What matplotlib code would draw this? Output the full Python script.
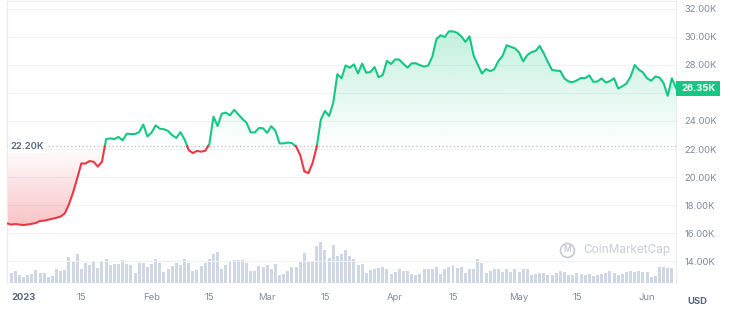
import datetime
import numpy as np
import matplotlib
matplotlib.use('Agg')
import matplotlib.pyplot as plt
import matplotlib.dates as mdates
import matplotlib.transforms as mtransforms
from matplotlib.path import Path
from matplotlib.patches import PathPatch, Rectangle

plt.rcParams['font.family'] = ['Inter', 'DejaVu Sans']

# BTC price in thousands USD, one value per day from 2022-12-28
price = [
    16.69, 16.60, 16.64, 16.60, 16.57, 16.61, 16.66, 16.72, 16.86, 16.88,
    16.95, 17.02, 17.09, 17.18, 17.40, 18.05, 18.90, 19.90, 20.97, 20.96,
    21.14, 21.08, 20.74, 21.10, 22.70, 22.76, 22.71, 22.86, 22.62, 23.09,
    23.07, 23.07, 23.20, 23.75, 22.90, 23.17, 23.69, 23.45, 23.41, 23.29,
    22.98, 22.79, 23.20, 22.68, 21.92, 21.71, 21.86, 21.81, 21.87, 22.35,
    24.31, 23.64, 24.52, 24.60, 24.40, 24.80, 24.48, 24.15, 23.88, 23.19,
    23.18, 23.50, 23.48, 23.15, 23.63, 23.30, 22.40, 22.40, 22.46, 22.42,
    22.18, 21.57, 20.40, 20.28, 21.00, 22.15, 24.10, 24.72, 24.36, 25.30,
    27.35, 27.05, 27.97, 27.80, 28.05, 27.40, 28.10, 27.45, 27.50, 27.85,
    27.12, 27.30, 28.30, 28.07, 28.40, 28.38, 28.08, 27.81, 28.12, 28.12,
    27.99, 27.88, 27.97, 28.60, 29.87, 30.12, 30.00, 30.40, 30.40, 30.30,
    30.05, 29.65, 30.05, 28.67, 28.03, 27.39, 27.71, 27.56, 27.70, 28.29,
    28.65, 29.41, 29.30, 29.19, 28.90, 28.26, 28.71, 28.92, 29.00, 29.36,
    28.82, 28.20, 27.64, 27.60, 27.57, 27.03, 26.82, 26.78, 26.90, 27.08,
    27.06, 27.26, 26.79, 26.83, 27.04, 26.75, 26.85, 27.05, 26.32, 26.48,
    26.67, 27.17, 28.00, 27.67, 27.47, 27.04, 26.88, 27.18, 27.10, 26.70,
    25.80, 27.05, 26.35,
]

# daily volume (billions USD, approx)
volume = [
    12.3, 10, 11.7, 7.7, 6, 7.7, 9, 13.3, 9.7, 10,
    5.7, 7, 14, 11.7, 13.3, 25.7, 21.7, 29.3, 14, 20,
    18.3, 22.3, 15, 21.7, 24.3, 18, 19.3, 19.3, 23, 19,
    18.3, 10, 20, 20, 16.3, 19, 23.7, 20, 11, 14.3,
    17.3, 19.7, 18.3, 24, 20.3, 11.7, 13.3, 17, 20, 24.3,
    29.3, 30.7, 14.3, 18.3, 21.7, 23, 23, 23, 20, 11.7,
    11.7, 16.7, 15.7, 18, 14.3, 19, 7.7, 9.3, 12.3, 16.3,
    16.3, 22.3, 29.7, 22.3, 21.7, 36.7, 41, 32.7, 25, 37.7,
    26.7, 29, 33.3, 26.7, 24.3, 17.7, 19, 10, 13.3, 13.7,
    15, 16.3, 14, 9, 11, 14.3, 11.7, 12.3, 9, 7.7,
    9, 14, 14.3, 13.7, 16.3, 9, 14, 15.7, 18.3, 15,
    15.7, 10, 14.3, 14.3, 23.7, 19.7, 10, 12.3, 14.3, 13.7,
    11, 13.7, 11, 14.3, 11, 14.3, 13.7, 8.3, 9, 10.3,
    10, 7.7, 8.3, 10.3, 12.3, 11, 8.3, 7.7, 10.3, 9,
    8.3, 9, 6.7, 7.7, 9, 10.3, 11.7, 10, 7.7, 9,
    11, 11.7, 11, 11.7, 11, 11, 6.3, 7, 16, 16,
    15, 15,
]

baseline = 22.20
y_ticks = [14, 16, 18, 20, 22, 24, 26, 28, 30, 32]
tick_dates = ['2023-01-01', '2023-01-15', '2023-02-01', '2023-02-15', '2023-03-01',
              '2023-03-15', '2023-04-01', '2023-04-15', '2023-05-01', '2023-05-15',
              '2023-06-01']
tick_labels = ['2023', '15', 'Feb', '15', 'Mar', '15', 'Apr', '15', 'May', '15', 'Jun']

GREEN = '#16c784'
RED = '#ea3943'
GREY = '#808a9d'
DARK = '#58667e'

start = datetime.date(2022, 12, 28)
days = [start + datetime.timedelta(days=i) for i in range(len(price))]
x = mdates.date2num(days)
y = np.array(price)

fig = plt.figure(figsize=(7.3, 3.12), dpi=100)
ax = fig.add_axes([7 / 730, 29 / 312, 669 / 730, 282 / 312])
ax2 = ax.twinx()
ax.set_zorder(2)
ax2.set_zorder(1)
ax.patch.set_visible(False)

# volume bars
ax2.bar(x[:len(volume)], volume, width=0.72, color='#cfd6e4', linewidth=0)
ax2.set_ylim(0, 282)
ax2.set_yticks([])
for s in ax2.spines.values():
    s.set_visible(False)

ax.set_xlim(x[0], x[-1])
ax.set_ylim(12.43, 32.57)

# gradient fill between line and baseline
fill = ax.fill_between(x, y, baseline, interpolate=True, facecolor='none', edgecolor='none')
clip = PathPatch(Path.make_compound_path(*fill.get_paths()), transform=ax.transData,
                 facecolor='none', edgecolor='none')
ax.add_patch(clip)
yy = np.linspace(12.43, 32.57, 500)
grad = np.zeros((500, 1, 4))
up = yy >= baseline
grad[up, 0, :3] = matplotlib.colors.to_rgb(GREEN)
grad[up, 0, 3] = 0.26 * np.clip((yy[up] - baseline) / (y.max() - baseline), 0, 1)
grad[~up, 0, :3] = matplotlib.colors.to_rgb(RED)
grad[~up, 0, 3] = 0.30 * np.clip((baseline - yy[~up]) / (baseline - y.min()), 0, 1)
im = ax.imshow(grad, extent=[x[0], x[-1], 12.43, 32.57], origin='lower', aspect='auto',
               interpolation='bilinear', zorder=1)
im.set_clip_path(clip)

# split line at baseline crossings
xs, ys = [x[0]], [y[0]]
for i in range(1, len(y)):
    if (y[i - 1] - baseline) * (y[i] - baseline) < 0:
        t = (baseline - y[i - 1]) / (y[i] - y[i - 1])
        xs.append(x[i - 1] + t * (x[i] - x[i - 1]))
        ys.append(baseline)
    xs.append(x[i])
    ys.append(y[i])
xs = np.array(xs)
ys = np.array(ys)
ax.plot(xs, np.ma.masked_where(ys < baseline, ys), color=GREEN, lw=1.5, zorder=4,
        solid_joinstyle='round')
ax.plot(xs, np.ma.masked_where(ys > baseline, ys), color=RED, lw=1.5, zorder=4,
        solid_joinstyle='round')

# baseline
ax.axhline(baseline, color='#b5bcc9', lw=0.9, ls=(0, (1, 2)), zorder=3)
ax.text(0.005, baseline, f'{baseline:.2f}K', transform=mtransforms.blended_transform_factory(ax.transAxes, ax.transData),
        ha='left', va='center', fontsize=6.8, fontweight='semibold', color=DARK, zorder=5,
        bbox=dict(facecolor='white', edgecolor='none', pad=1.5))

# axes styling
ax.set_yticks(y_ticks)
ax.set_yticklabels(['' if v == 26 else f'{v:.2f}K' for v in y_ticks])
ax.yaxis.tick_right()
ax.tick_params(axis='y', length=0, pad=6, labelsize=6.8, labelcolor=GREY)
ax.yaxis.grid(True, color='#eff2f5', lw=0.8)
ax.set_axisbelow(True)
ax.set_xticks(mdates.date2num([datetime.date.fromisoformat(d) for d in tick_dates]))
ax.set_xticklabels(tick_labels)
ax.tick_params(axis='x', length=0, pad=7, labelsize=6.8, labelcolor=GREY)
first = ax.get_xticklabels()[0]
first.set_fontweight('bold')
first.set_color(DARK)
for side in ['left', 'right', 'top']:
    ax.spines[side].set_color('#e9ecf1')
    ax.spines[side].set_linewidth(0.8)
ax.spines['bottom'].set_visible(False)

# current price tag
tr = mtransforms.blended_transform_factory(ax.transAxes, ax.transData)
ax.add_patch(Rectangle((1.0, price[-1] - 0.54), 44 / 669, 1.08, transform=tr,
                       facecolor=GREEN, edgecolor='none', clip_on=False, zorder=6))
ax.text(1.0 + 22 / 669, price[-1], f'{price[-1]:.2f}K', transform=tr, ha='center', va='center',
        fontsize=6.8, fontweight='bold', color='white', zorder=7, clip_on=False)

# watermark
ax.plot([0.837], [0.118], marker='o', markersize=10, mfc='none', mec='#c8cdd6', mew=1.3,
        transform=ax.transAxes, zorder=3)
ax.text(0.837, 0.118, 'M', transform=ax.transAxes, ha='center', va='center',
        fontsize=6, color='#c8cdd6', fontweight='bold', zorder=3)
ax.text(0.927, 0.118, 'CoinMarketCap', transform=ax.transAxes, ha='center', va='center',
        fontsize=8.5, color='#c8cdd6', zorder=3)

fig.text(697 / 730, 1 - 302 / 312, 'USD', ha='center', va='center', fontsize=6.8,
         fontweight='bold', color=DARK)

fig.savefig('out.png', dpi=100)
